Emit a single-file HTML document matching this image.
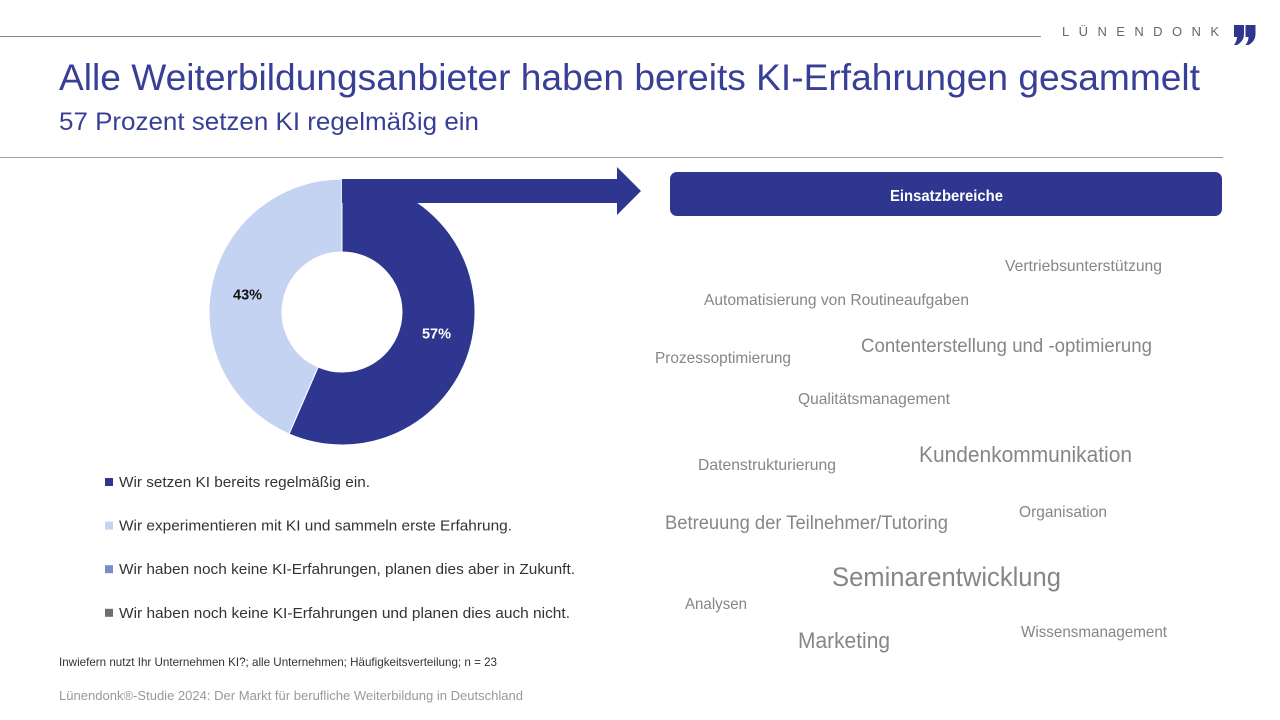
<!DOCTYPE html>
<html lang="de">
<head>
<meta charset="utf-8">
<title>Alle Weiterbildungsanbieter haben bereits KI-Erfahrungen gesammelt</title>
<style>
  html, body { margin: 0; padding: 0; background: #fff; width: 1280px; height: 720px; overflow: hidden; }
  svg { display: block; font-family: "Liberation Sans", sans-serif; }
  .word { fill: #868686; }
</style>
</head>
<body>
<svg id="slide" width="1280" height="720" viewBox="0 0 1280 720" xmlns="http://www.w3.org/2000/svg">
  <rect width="1280" height="720" fill="#fff"/>

  <line x1="0" y1="36.5" x2="1041" y2="36.5" stroke="#8c8c8c" stroke-width="1"/>
  <text x="1062" y="36" font-size="13" fill="#666" textLength="157" lengthAdjust="spacing">LÜNENDONK</text>
  <path fill="#2f3690" d="M1234 25h10v9q0 7-7 11h-3q3-4 3-8h-3zM1245.5 25h10v9q0 7-7 11h-3q3-4 3-8h-3z"/>

  <text x="59" y="90" font-size="37" fill="#383f96" textLength="1141" lengthAdjust="spacingAndGlyphs">Alle Weiterbildungsanbieter haben bereits KI-Erfahrungen gesammelt</text>
  <text x="59" y="130" font-size="25" fill="#383f96" textLength="420" lengthAdjust="spacingAndGlyphs">57 Prozent setzen KI regelmäßig ein</text>
  <line x1="0" y1="157.5" x2="1223" y2="157.5" stroke="#a0a0a0" stroke-width="1"/>

  <g id="donut"></g>
  <polygon fill="#2f3690" points="342,179 617,179 617,167 641,191 617,215 617,203 417,203 342,203"/>
  <g id="donut-labels"></g>
  <g id="legend"></g>

  <rect x="670" y="172" width="552" height="44" rx="7" fill="#2f3690"/>
  <text x="890" y="201" font-size="15.5" font-weight="700" fill="#fff" textLength="113" lengthAdjust="spacingAndGlyphs">Einsatzbereiche</text>

  <g>
    <text class="word" x="1005" y="271" font-size="16" textLength="157" lengthAdjust="spacingAndGlyphs">Vertriebsunterstützung</text>
    <text class="word" x="704" y="305" font-size="16" textLength="265" lengthAdjust="spacingAndGlyphs">Automatisierung von Routineaufgaben</text>
    <text class="word" x="861" y="352" font-size="19.5" textLength="291" lengthAdjust="spacingAndGlyphs">Contenterstellung und -optimierung</text>
    <text class="word" x="655" y="363" font-size="16" textLength="136" lengthAdjust="spacingAndGlyphs">Prozessoptimierung</text>
    <text class="word" x="798" y="404" font-size="16" textLength="152" lengthAdjust="spacingAndGlyphs">Qualitätsmanagement</text>
    <text class="word" x="919" y="462" font-size="22.5" textLength="213" lengthAdjust="spacingAndGlyphs">Kundenkommunikation</text>
    <text class="word" x="698" y="470" font-size="16" textLength="138" lengthAdjust="spacingAndGlyphs">Datenstrukturierung</text>
    <text class="word" x="1019" y="517" font-size="16" textLength="88" lengthAdjust="spacingAndGlyphs">Organisation</text>
    <text class="word" x="665" y="529" font-size="19.5" textLength="283" lengthAdjust="spacingAndGlyphs">Betreuung der Teilnehmer/Tutoring</text>
    <text class="word" x="832" y="586" font-size="27" textLength="229" lengthAdjust="spacingAndGlyphs">Seminarentwicklung</text>
    <text class="word" x="685" y="609" font-size="16" textLength="62" lengthAdjust="spacingAndGlyphs">Analysen</text>
    <text class="word" x="1021" y="637" font-size="16" textLength="146" lengthAdjust="spacingAndGlyphs">Wissensmanagement</text>
    <text class="word" x="798" y="648" font-size="22.5" textLength="92" lengthAdjust="spacingAndGlyphs">Marketing</text>
  </g>

  <text x="59" y="666" font-size="12" fill="#333" textLength="438" lengthAdjust="spacingAndGlyphs">Inwiefern nutzt Ihr Unternehmen KI?; alle Unternehmen; Häufigkeitsverteilung; n = 23</text>
  <text x="59" y="700" font-size="12.5" fill="#999" textLength="464" lengthAdjust="spacingAndGlyphs">Lünendonk®-Studie 2024: Der Markt für berufliche Weiterbildung in Deutschland</text>
</svg>

<script>
const categories = [
  "Wir setzen KI bereits regelmäßig ein.",
  "Wir experimentieren mit KI und sammeln erste Erfahrung.",
  "Wir haben noch keine KI-Erfahrungen, planen dies aber in Zukunft.",
  "Wir haben noch keine KI-Erfahrungen und planen dies auch nicht."
];
const shares = [56.52, 43.48, 0, 0];
const colors = ["#2f3690", "#c3d3f1", "#7c8cc8", "#6e6e6e"];
const labelColors = ["#ffffff", "#111111", "#111111", "#ffffff"];
const legendTextWidths = [251, 393, 456, 451];

const NS = "http://www.w3.org/2000/svg";
const cx = 342, cy = 312, rOuter = 133, rInner = 60, rLabel = 96.5;

function angleOf(cumulative) {
  const total = shares.reduce(function (a, b) { return a + b; }, 0);
  return cumulative / total * 2 * Math.PI;
}
function polar(r, a) {
  return [cx + r * Math.sin(a), cy - r * Math.cos(a)];
}
function arcPath(a0, a1) {
  const large = a1 - a0 > Math.PI ? 1 : 0;
  const p0 = polar(rOuter, a0), p1 = polar(rOuter, a1);
  const p2 = polar(rInner, a1), p3 = polar(rInner, a0);
  return "M" + p0[0] + " " + p0[1] +
    "A" + rOuter + " " + rOuter + " 0 " + large + " 1 " + p1[0] + " " + p1[1] +
    "L" + p2[0] + " " + p2[1] +
    "A" + rInner + " " + rInner + " 0 " + large + " 0 " + p3[0] + " " + p3[1] + "Z";
}

const donut = document.getElementById("donut");
const donutLabels = document.getElementById("donut-labels");
let running = 0;
shares.forEach(function (value, i) {
  if (value <= 0) return;
  const a0 = angleOf(running);
  const a1 = angleOf(running + value);
  running += value;

  const slice = document.createElementNS(NS, "path");
  slice.setAttribute("d", arcPath(a0, a1));
  slice.setAttribute("fill", colors[i]);
  slice.setAttribute("stroke", "#fff");
  slice.setAttribute("stroke-width", "1");
  
  
  donut.appendChild(slice);

  const pos = polar(rLabel, (a0 + a1) / 2);
  const label = document.createElementNS(NS, "text");
  label.setAttribute("x", pos[0]);
  label.setAttribute("y", pos[1] + 7);
  label.setAttribute("text-anchor", "middle");
  label.setAttribute("font-size", "14.5");
  label.setAttribute("font-weight", "700");
  label.setAttribute("fill", labelColors[i]);
  label.textContent = Math.round(value) + "%";
  
  
  donutLabels.appendChild(label);
});

const legend = document.getElementById("legend");
const legendTop = 487, legendStep = 43.6;
categories.forEach(function (name, i) {
  const y = legendTop + i * legendStep;

  const swatch = document.createElementNS(NS, "rect");
  swatch.setAttribute("x", 105);
  swatch.setAttribute("y", y - 9);
  swatch.setAttribute("width", 8);
  swatch.setAttribute("height", 8);
  swatch.setAttribute("fill", colors[i]);
  
  
  legend.appendChild(swatch);

  const text = document.createElementNS(NS, "text");
  text.setAttribute("x", 119);
  text.setAttribute("y", y);
  text.setAttribute("font-size", "15");
  text.setAttribute("fill", "#333");
  text.setAttribute("textLength", legendTextWidths[i]);
  text.setAttribute("lengthAdjust", "spacingAndGlyphs");
  text.textContent = name;
  
  
  legend.appendChild(text);
});
</script>
</body>
</html>
